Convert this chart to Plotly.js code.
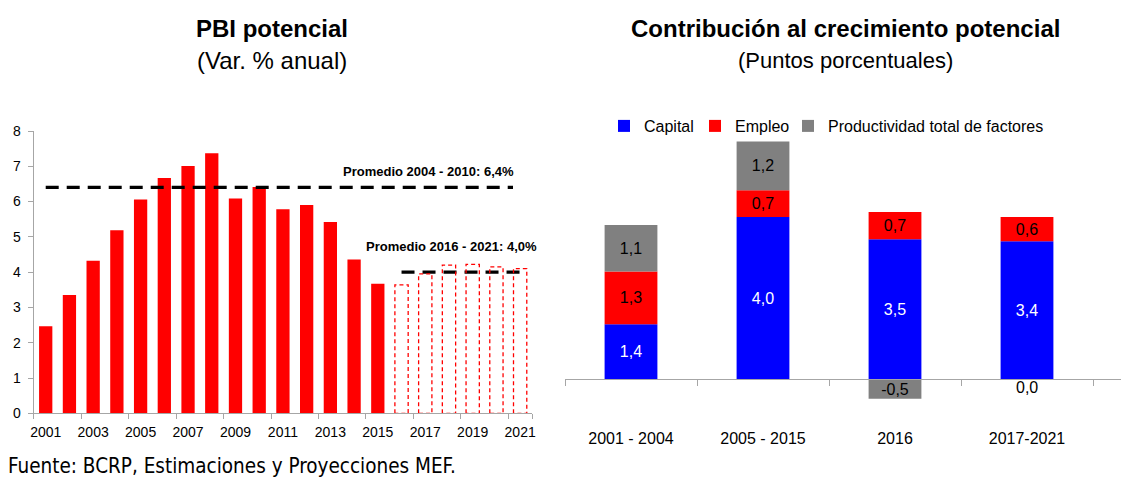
<!DOCTYPE html>
<html>
<head>
<meta charset="utf-8">
<script src="https://cdn.plot.ly/plotly-3.0.1.min.js"></script>
<style>html,body{margin:0;padding:0;background:#fff;}#chart{width:1121px;height:478px;}</style>
</head>
<body>
<div id="chart"></div>
<script>
// ---------- DATA ----------
// Left chart: PBI potencial (Var. % anual)
const years = [2001, 2002, 2003, 2004, 2005, 2006, 2007, 2008, 2009, 2010, 2011, 2012, 2013, 2014, 2015];
const pbiValues = [2.47, 3.35, 4.32, 5.19, 6.06, 6.67, 7.01, 7.37, 6.09, 6.41, 5.78, 5.90, 5.42, 4.36, 3.67];
const projYears = [2016, 2017, 2018, 2019, 2020, 2021];
const projValues = [3.64, 3.95, 4.20, 4.22, 4.15, 4.10];
const yearTickLabels = ["2001", "2003", "2005", "2007", "2009", "2011", "2013", "2015", "2017", "2019", "2021"];
const avgLabels = ["Promedio 2004 - 2010: 6,4%", "Promedio 2016 - 2021: 4,0%"];
const avgValues = [6.4, 4.0];
const avgSpans = [[2001, 2020.7], [2016, 2021.05]];

// Right chart: Contribución al crecimiento potencial (puntos porcentuales)
const periods = ["2001 - 2004", "2005 - 2015", "2016", "2017-2021"];
const capital = [1.36, 4.01, 3.46, 3.41];
const empleo = [1.30, 0.66, 0.67, 0.60];
const ptf = [1.15, 1.20, -0.48, 0.0];
const seriesNames = ["Capital", "Empleo", "Productividad total de factores"];

// ---------- LAYOUT HELPERS ----------
const W = 1121, H = 478;
const px = x => x / W;
const py = y => 1 - y / H;
const FONT = "Liberation Sans, Arial, sans-serif";
const NARROW = "DejaVu Sans Condensed, Liberation Sans Narrow, Arial Narrow, sans-serif";
const RED = "#FF0000", BLUE = "#0000FF", GRAY = "#808080", AXIS = "#A6A6A6";

// left plot geometry
const L = {x0: 33.85, x1: 532, y0: 413.3, y1: 131};
// right plot geometry
const R = {x0: 565, x1: 1121, top: 100, bottom: 420, zero: 379.3, k: 40.5, catPx: 132};
const rRange = [-(R.bottom - R.zero) / R.k, (R.zero - R.top) / R.k];
const rxRange = [-0.5, -0.5 + (R.x1 - R.x0) / R.catPx];
// legend entry positions (left edge of each entry, px)
const legendX = [604, 695, 788];
const legendIds = ["legend", "legend2", "legend3"];

const BARW = 0.56;

// dashed outlines for projected bars
const ox = [], oy = [];
projYears.forEach((yr, i) => {
  const v = projValues[i];
  ox.push(yr - BARW / 2, yr - BARW / 2, yr + BARW / 2, yr + BARW / 2, yr - BARW / 2, null);
  oy.push(0, v, v, 0, 0, null);
});

const fmt = v => v.toFixed(1).replace(".", ",");

const traces = [
  {type: "bar", x: years, y: pbiValues, width: BARW, marker: {color: RED}, xaxis: "x", yaxis: "y",
   showlegend: false, name: "PBI potencial", hoverinfo: "x+y"},
  {type: "scatter", mode: "lines", x: ox, y: oy, xaxis: "x3", yaxis: "y",
   line: {color: RED, width: 1.3, dash: "4px,3px"}, showlegend: false, name: "Proyección", hoverinfo: "skip"},
];
avgValues.forEach((v, i) => {
  traces.push({type: "scatter", mode: "lines", x: avgSpans[i], y: [v, v], xaxis: "x", yaxis: "y",
    line: {color: "#000", width: 3.2, dash: "13px,8px"}, showlegend: false, hoverinfo: "skip", name: avgLabels[i]});
});

const stackSeries = [capital, empleo, ptf];
const stackColors = [BLUE, RED, GRAY];
const stackText = ["#FFFFFF", "#000000", "#000000"];
stackSeries.forEach((s, i) => {
  traces.push({
    type: "bar", x: periods, y: s, name: seriesNames[i], width: 0.4, legend: legendIds[i],
    xaxis: "x2", yaxis: "y2", marker: {color: stackColors[i]},
    text: s.map(v => Math.abs(v) < 0.05 ? "" : fmt(v)),
    textposition: "inside", insidetextanchor: "middle", textangle: 0, constraintext: "none",
    insidetextfont: {family: FONT, size: 16, color: stackText[i]},
    hoverinfo: "x+y+name"
  });
});

const annotations = [
  {text: "<b>PBI potencial</b>", x: px(272), y: py(28), xref: "paper", yref: "paper", showarrow: false,
   xanchor: "center", yanchor: "middle", font: {family: FONT, size: 24, color: "#000"}},
  {text: "(Var. % anual)", x: px(272), y: py(61), xref: "paper", yref: "paper", showarrow: false,
   xanchor: "center", yanchor: "middle", font: {family: FONT, size: 24, color: "#000"}},
  {text: "<b>Contribución al crecimiento potencial</b>", x: px(845), y: py(28), xref: "paper", yref: "paper", showarrow: false,
   xanchor: "center", yanchor: "middle", font: {family: FONT, size: 24, color: "#000"}},
  {text: "(Puntos porcentuales)", x: px(845), y: py(60), xref: "paper", yref: "paper", showarrow: false,
   xanchor: "center", yanchor: "middle", font: {family: FONT, size: 22, color: "#000"}},
  {text: "Fuente: BCRP, Estimaciones y Proyecciones MEF.", x: px(6), y: py(466), xref: "paper", yref: "paper", showarrow: false,
   xanchor: "left", yanchor: "middle", font: {family: NARROW, size: 20.5, color: "#000"}},
  {text: "<b>" + avgLabels[0] + "</b>", x: avgSpans[0][1], y: avgValues[0], xref: "x", yref: "y", showarrow: false,
   xanchor: "right", yanchor: "bottom", xshift: 3, yshift: 6, font: {family: FONT, size: 13, color: "#000"}},
  {text: "<b>" + avgLabels[1] + "</b>", x: avgSpans[1][1], y: avgValues[1], xref: "x", yref: "y", showarrow: false,
   xanchor: "right", yanchor: "bottom", xshift: 18, yshift: 16, font: {family: FONT, size: 13, color: "#000"}},
];
// zero-valued labels for PTF
ptf.forEach((v, i) => {
  if (Math.abs(v) < 0.05) {
    annotations.push({text: fmt(v), x: periods[i], y: 0, xref: "x2", yref: "y2", showarrow: false,
      xanchor: "center", yanchor: "top", yshift: 2, font: {family: FONT, size: 16, color: "#000"}});
  }
});

const layout = {
  width: W, height: H,
  margin: {l: 0, r: 0, t: 0, b: 0, pad: 0},
  paper_bgcolor: "#fff", plot_bgcolor: "rgba(0,0,0,0)",
  font: {family: FONT, color: "#000"},
  separators: ",.",
  barmode: "relative",
  showlegend: true,
  xaxis: {domain: [px(L.x0), px(L.x1)], range: [2000.5, 2021.5], anchor: "y",
    tickmode: "array", tickvals: yearTickLabels.map(Number), ticktext: yearTickLabels,
    ticks: "", showgrid: false, zeroline: false, showline: true, linecolor: AXIS, linewidth: 1.3,
    tickfont: {family: FONT, size: 14, color: "#000"}, ticklabelstandoff: 6, fixedrange: true},
  xaxis3: {overlaying: "x", domain: [px(L.x0), px(L.x1)], range: [2000.5, 2021.5], anchor: "y",
    tickmode: "array", tickvals: yearTickLabels.map(s => Number(s) - 0.5).concat([2021.5]),
    ticks: "outside", ticklen: 5, tickcolor: AXIS, tickwidth: 1.3, showticklabels: false,
    showgrid: false, zeroline: false, showline: false, fixedrange: true},
  yaxis: {domain: [py(L.y0), py(L.y1)], range: [0, 8], dtick: 1, anchor: "x",
    ticks: "outside", ticklen: 5, tickcolor: AXIS, tickwidth: 1.3, showline: true, linecolor: AXIS, linewidth: 1.3,
    showgrid: false, zeroline: false, tickfont: {family: FONT, size: 14, color: "#000"}, ticklabelstandoff: 4, fixedrange: true},
  xaxis2: {domain: [px(R.x0), px(R.x1)], range: rxRange, type: "category", anchor: "free", position: py(R.zero),
    tickson: "boundaries", ticks: "outside", ticklen: 6, tickcolor: AXIS, tickwidth: 1.3,
    showline: true, linecolor: AXIS, linewidth: 1.3, showgrid: false, zeroline: false,
    tickfont: {family: FONT, size: 16, color: "#000"}, ticklabelstandoff: 44, fixedrange: true},
  yaxis2: {domain: [py(R.bottom), py(R.top)], range: rRange, anchor: "x2", visible: false,
    showgrid: false, zeroline: false, fixedrange: true},
  annotations: annotations,
};
legendIds.forEach((id, i) => {
  layout[id] = {orientation: "h", x: px(legendX[i]), y: py(126), xanchor: "left", yanchor: "middle",
    font: {family: FONT, size: 16, color: "#000"}, bgcolor: "rgba(0,0,0,0)",
    itemclick: false, itemdoubleclick: false};
});

Plotly.newPlot("chart", traces, layout, {displayModeBar: false});
</script>
</body>
</html>
